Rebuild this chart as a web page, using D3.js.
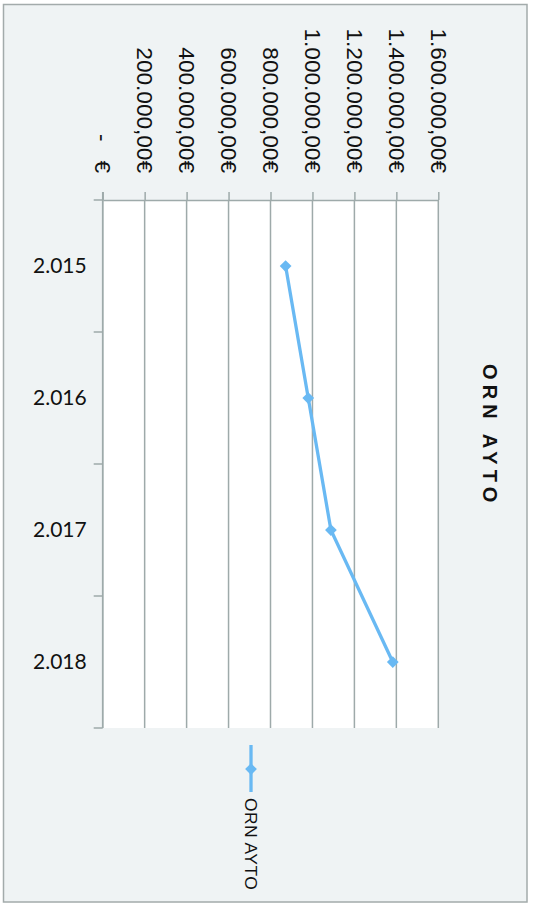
<!DOCTYPE html>
<html>
<head>
<meta charset="utf-8">
<script src="https://cdn.jsdelivr.net/npm/d3@7"></script>
<style>
  html, body { margin: 0; padding: 0; background: #ffffff; }
  svg { display: block; }
  text { white-space: pre; }
  .arial { font-family: "Liberation Sans", Arimo, Arial, Helvetica, sans-serif; }
  .calib { font-family: Lato, "Open Sans", sans-serif; }
</style>
</head>
<body>
<script>
// Annual amounts for ORN AYTO (euros)
const years = [2015, 2016, 2017, 2018];
const amounts = [872000, 980000, 1088000, 1383000];
const valueTicks = [0, 200000, 400000, 600000, 800000, 1000000, 1200000, 1400000, 1600000];
const seriesName = "ORN AYTO";
const chartTitle = "ORN AYTO";

const W = 536, H = 904;
const plot = { left: 102.7, right: 438.3, top: 200, bottom: 728 };
const lineColor = "#69b9f3";
const gridColor = "#9eaaaa";

const es = d3.formatLocale({ decimal: ",", thousands: ".", grouping: [3], currency: ["", "€"] });
const fmtMoney = v => v === 0 ? "-   €" : es.format(",.2f")(v) + "€";
const fmtYear = es.format(",d");

const svg = d3.select("body").append("svg").attr("width", W).attr("height", H);

// chart frame
svg.append("rect")
  .attr("x", 3.5).attr("y", 4.5).attr("width", 523.5).attr("height", 897.5)
  .attr("fill", "#eff3f4").attr("stroke", "#a3abab").attr("stroke-width", 1.5);

// plot area
svg.append("rect")
  .attr("x", plot.left).attr("y", plot.top)
  .attr("width", plot.right - plot.left).attr("height", plot.bottom - plot.top)
  .attr("fill", "#ffffff");

const x = d3.scaleLinear().domain([0, 1600000]).range([plot.left, plot.right]);
const y = d3.scaleBand().domain(years).range([plot.top, plot.bottom]);

// value gridlines
svg.append("g").selectAll("line").data(valueTicks).join("line")
  .attr("x1", d => x(d)).attr("x2", d => x(d))
  .attr("y1", plot.top).attr("y2", plot.bottom)
  .attr("stroke", gridColor).attr("stroke-width", 1.5);

// value axis along the top
const xAxis = d3.axisTop(x).tickValues(valueTicks).tickSize(8).tickSizeOuter(0).tickFormat(fmtMoney);
const gx = svg.append("g").attr("transform", `translate(0,${plot.top})`).call(xAxis)
  .attr("font-family", null).attr("font-size", null);
gx.select(".domain").attr("stroke", gridColor).attr("stroke-width", 1.5);
gx.selectAll(".tick line").attr("stroke", gridColor).attr("stroke-width", 1.5);
gx.selectAll(".tick text")
  .attr("class", "arial")
  .style("font-size", "22.6px")
  .attr("fill", "#111")
  .attr("text-anchor", "end")
  .attr("transform", "translate(0,-27) rotate(90)")
  .attr("x", 0).attr("y", 0).attr("dy", "0.36em");

// category axis on the left
const gy = svg.append("g").attr("transform", `translate(${plot.left},0)`)
  .call(d3.axisLeft(y).tickSize(0).tickPadding(16).tickFormat(fmtYear))
  .attr("font-family", null).attr("font-size", null);
gy.select(".domain").attr("stroke", gridColor).attr("stroke-width", 1.5)
  .attr("d", `M0,${plot.top - 8}V${plot.bottom}`);
gy.selectAll(".tick text")
  .attr("class", "calib")
  .style("font-size", "21px")
  .attr("fill", "#111");

// category boundary ticks
const edges = years.map(d => y(d)).concat([y(years[years.length - 1]) + y.bandwidth()]);
svg.append("g").selectAll("line").data(edges).join("line")
  .attr("x1", plot.left - 9).attr("x2", plot.left)
  .attr("y1", d => d).attr("y2", d => d)
  .attr("stroke", gridColor).attr("stroke-width", 1.5);

// series line
const pts = years.map((yr, i) => [x(amounts[i]), y(yr) + y.bandwidth() / 2]);
svg.append("path")
  .attr("d", d3.line()(pts))
  .attr("fill", "none").attr("stroke", lineColor).attr("stroke-width", 3.3);

const diamond = d3.symbol().type(d3.symbolDiamond2).size(88);
svg.append("g").selectAll("path").data(pts).join("path")
  .attr("d", diamond())
  .attr("transform", d => `translate(${d[0]},${d[1]})`)
  .attr("fill", lineColor);

// title
svg.append("text")
  .attr("class", "arial")
  .attr("transform", "translate(483,364) rotate(90)")
  .style("font-weight", "bold")
  .style("font-size", "20px")
  .style("letter-spacing", "5.1px")
  .attr("fill", "#111")
  .text(chartTitle);

// legend
const lx = 251;
svg.append("line")
  .attr("x1", lx).attr("x2", lx).attr("y1", 745).attr("y2", 792)
  .attr("stroke", lineColor).attr("stroke-width", 3.3);
svg.append("path")
  .attr("d", diamond())
  .attr("transform", `translate(${lx},769)`)
  .attr("fill", lineColor);
svg.append("text")
  .attr("class", "arial")
  .attr("transform", "translate(245,798) rotate(90)")
  .style("font-size", "17.4px")
  .style("letter-spacing", "0.5px")
  .attr("fill", "#111")
  .text(seriesName);
</script>
</body>
</html>
